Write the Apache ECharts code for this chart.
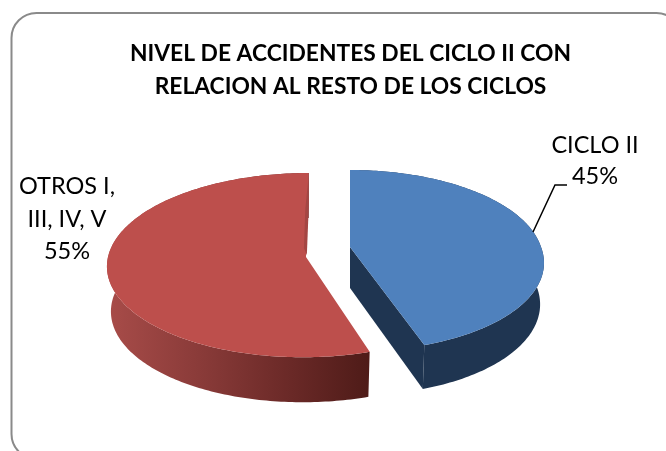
<!DOCTYPE html>
<html><head><meta charset="utf-8">
<style>html,body{margin:0;padding:0;background:#fff}#c{width:666px;height:451px}</style>
<script src="https://cdn.jsdelivr.net/npm/echarts@6/dist/echarts.min.js"></script>
</head><body><div id="c"></div>
<script>
var categories = ['CICLO II', 'OTROS I,\nIII, IV, V'];
var values = [45, 55];
var titleText = 'NIVEL DE ACCIDENTES DEL CICLO II CON\nRELACION AL RESTO DE LOS CICLOS';

var FONT = 'Lato, "Open Sans", sans-serif';
var total = values[0] + values[1];
// per-slice projection of the tilted, exploded disc
var views = [
  {ax:350, ay:247, rx:191, ry:88.5, k:0.149, skew:0, skewLow:-5, depth:41, sx:0.98, sy:1.03},
  {ax:306, ay:257, rx:198, ry:91.4, k:0.088, skew:3, skewLow:0, depth:45, sx:0.98, sy:1.0}
];
function project(view, a, r, bottom) {
  var u = r * Math.sin(a), v = r * Math.cos(a), d = 1 + view.k * v;
  var x = (view.rx * u + view.skew * v + view.skewLow * Math.min(v, 0)) / d, y = -view.ry * v / d;
  if (bottom) return [view.ax + x * view.sx, view.ay + view.depth + y * view.sy];
  return [view.ax + x, view.ay + y];
}
function arc(view, a0, a1, bottom) {
  var pts = [], n = Math.ceil(Math.abs(a1 - a0) * 180 / Math.PI);
  for (var i = 0; i <= n; i++) pts.push(project(view, a0 + (a1 - a0) * i / n, 1, bottom));
  return pts;
}
function poly(points, fill, z) {
  return {type:'polygon', z2:z, shape:{points:points}, style:{fill:fill, stroke:null}};
}
function renderSlice(params, api) {
  var idx = api.value(0), val = api.value(1);
  var start = 0;
  for (var i = 0; i < idx; i++) start += values[i];
  var a0 = start / total * 2 * Math.PI, a1 = (start + val) / total * 2 * Math.PI;
  var view = views[idx], top = arc(view, a0, a1, false), low = arc(view, a0, a1, true).reverse();
  var apex = project(view, 0, 0, false), apexLow = project(view, 0, 0, true);
  var kids = [];
  if (idx === 0) {
    var side = '#1f3551';
    kids.push(poly(top.concat(low), side, 1));
    kids.push(poly([apex, top[top.length-1], low[0], apexLow], side, 1));
    kids.push(poly([apex].concat(top), '#4f81bd', 3));
  } else {
    var grad = new echarts.graphic.LinearGradient(107, 0, 370, 0, [
      {offset:0, color:'#a84c49'}, {offset:0.35, color:'#8a3b39'},
      {offset:0.7, color:'#6a2927'}, {offset:1, color:'#4e1b18'}], true);
    kids.push(poly(top.concat(low), grad, 1));
    kids.push(poly([apex].concat(top), '#bd4f4c', 3));
    // sliver of the inner wall seen along the cut
    var w = function (p, q) { var d = 1 + view.k * q;
      return [view.ax + (view.rx * p + view.skew * q) / d, view.ay - view.ry * q / d]; };
    kids.push(poly([w(0,0.96), w(0.006,0.62), w(0.004,0.02), w(-0.012,0.1), w(-0.012,0.55)], '#a44643', 4));
  }
  return {type:'group', children:kids};
}
var chart = echarts.init(document.getElementById('c'), null, {renderer:'canvas'});
chart.setOption({
  animation:false,
  backgroundColor:'#fff',
  title:{text:titleText, left:345.5, top:32, textAlign:'center',
    textStyle:{fontFamily:FONT, fontSize:22.8, fontWeight:'bold', color:'#000', lineHeight:33}},
  graphic:[
    {type:'rect', z:0, shape:{x:11.5, y:13, width:670, height:446, r:25},
      style:{fill:'#fff', stroke:'#8a8a8a', lineWidth:2}},
    {type:'polyline', z:5, shape:{points:[[533,232],[555,185],[567,185]]},
      style:{stroke:'#000', lineWidth:1.5, fill:null}},
    {type:'text', z:5, x:595, y:160.5, style:{text:categories[0] + '\n' + values[0] + '%',
      align:'center', verticalAlign:'middle', font:'23.5px ' + FONT, lineHeight:31, fill:'#000'}},
    {type:'text', z:5, x:67, y:219, style:{text:categories[1] + '\n' + values[1] + '%',
      align:'center', verticalAlign:'middle', font:'23.5px ' + FONT, lineHeight:32.5, fill:'#000'}}
  ],
  series:[{type:'custom', coordinateSystem:'none', renderItem:renderSlice, z:2,
    data:values.map(function (v, i) { return [i, v]; }), encode:{value:1}}]
});
</script></body></html>
